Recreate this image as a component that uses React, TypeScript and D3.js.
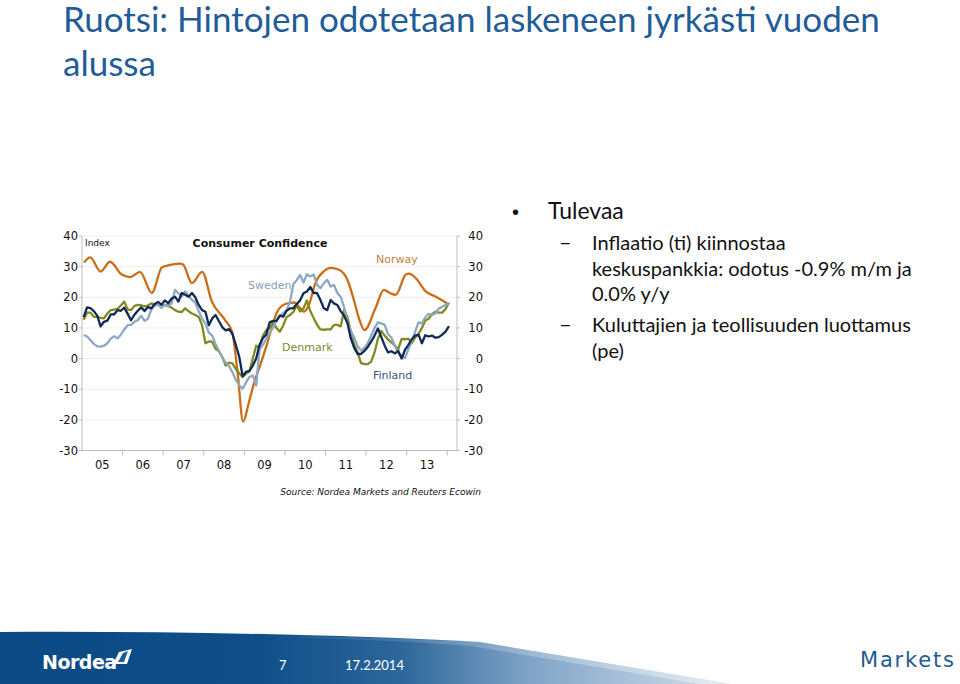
import React from "react";
import * as d3 from "d3";

// ---------- data ----------
const yearLabels = ["05", "06", "07", "08", "09", "10", "11", "12", "13"];
const yTicks = [40, 30, 20, 10, 0, -10, -20, -30];
const startYear = 2005;

// Monthly series, Jan 2005 .. Jan 2014
const sweden = [
  7.7, 7.2, 6, 4.8, 4, 3.9, 4.2, 5, 6.5, 7.3, 6.6, 7.8,
  9.5, 10.9, 11, 12, 12.5, 14, 12.3, 13, 16, 17.3, 17.5, 16.5,
  17.5, 17, 18, 22.4, 21.3, 20.3, 21.9, 20.5, 19.2, 18.3, 15.5, 13,
  11.5, 8.5, 7.5, 4.7, 2.5, 0.3, -1.3, -2.5, -4.5, -7, -8.7, -9.8,
  -7.8, -6, -5.5, -8.8, 3, 4.5, 6.5, 8.5, 10, 12.3, 14, 14.8,
  15.8, 18.5, 24.3, 25.6, 27.3, 24.8, 27.5, 26.8, 27.4, 24.1, 23, 24.6,
  25.7, 23.5, 24, 21.4, 20.1, 16.8, 12, 9, 6.8, 4, 2.6, 3.5,
  5, 7.5, 10, 11.8, 11.5, 11, 8, 6.8, 4.2, 1.8, 1, 0.2,
  3, 5.5, 8.8, 11.8, 11.5, 13.4, 14.6, 14.2, 14.7, 16.3, 16.9, 17.5,
  18,
];

const denmark = [
  12.7, 15, 15, 13.6, 13.6, 13.3, 13.1, 14.7, 15.8, 16, 16.2, 17.3,
  18.6, 16, 15.8, 17.2, 17.5, 17.4, 17, 17.3, 18, 17.6, 17.5, 17.5,
  17.5, 17.2, 16.6, 15.8, 15.3, 15.2, 16.4, 15.5, 14.7, 14.2, 13.6, 10.9,
  5, 5.6, 5.5, 3.2, 2.4, 0.5, -2.3, -1.3, -1.6, -3.5, -4.8, -6,
  -4.9, -4.2, 0, 4.2, 3.5, 7.5, 9.3, 10, 11.8, 10, 8.8, 10.8,
  13.6, 14.2, 15.2, 17.3, 15.4, 16.4, 19, 15.5, 13.2, 11, 9.5, 9.4,
  9.5, 9.5, 11, 11, 10.5, 15.8, 13.5, 8.5, 4.5, 2, -1.5, -1.8,
  -1.8, -1, 2, 6.5, 9, 7.5, 6.2, 5.3, 4.3, 3, 6.4, 6.3,
  6.5, 5, 6.8, 8, 10, 12.4, 13, 14.5, 15.3, 15, 15, 16.2,
  18.2,
];

const finland = [
  13.5, 16.7, 16.5, 15.5, 14, 10.5, 12, 12.4, 14.4, 14.4, 15.8, 15.6,
  16.6, 14.6, 12.5, 14.3, 15.6, 16.7, 15.5, 16.8, 16.4, 17.8, 18.5, 17.6,
  19, 18, 19.6, 20.2, 18.6, 21.4, 20.8, 20.2, 21.4, 20, 17.5, 15.8,
  15.3, 10.9, 13.1, 14.2, 12.2, 10.2, 9.2, 9.6, 8, 4.4, 0.6, -5.8,
  -4.3, -4, -2.3, 0, 4.5, 6.7, 7.8, 11.8, 12.3, 12.3, 14, 13.7,
  15.6, 16.4, 16.4, 17.8, 19, 21.3, 21.9, 23.4, 21.4, 21.4, 19.1, 16.4,
  15.8, 19.1, 18, 17.5, 15.5, 14, 11.5, 6.5, 3.5, 1.5, 1.5, 2.5,
  3.8, 5.5, 7.5, 9.8, 7, 4.2, 2, 2.4, 1.7, 2.5, 0, 2.8,
  4.5, 6.3, 7.5, 7.8, 5, 7.6, 7.2, 7.5, 6.8, 7, 7.8, 8.8,
  10.6,
];

// Norway (quarterly survey, plotted as a smooth line)
const norwayDates = [
  2005.05, 2005.2, 2005.46, 2005.69, 2005.98, 2006.19, 2006.43, 2006.72, 2006.97,
  2007.12, 2007.4, 2007.49, 2007.71, 2007.96, 2008.2, 2008.53, 2008.7, 2008.83,
  2008.97, 2009.11, 2009.23, 2009.4, 2009.56, 2009.68, 2009.81, 2010.01, 2010.22,
  2010.38, 2010.46, 2010.59, 2010.75, 2010.96, 2011.12, 2011.33, 2011.54, 2011.7,
  2011.84, 2011.96, 2012.23, 2012.44, 2012.6, 2012.73, 2012.98, 2013.06, 2013.22,
  2013.47, 2013.72, 2014.0,
];
const norwayValues = [
  31.3, 33, 28.4, 31.6, 27.4, 26.6, 28.3, 21.4, 29.8,
  30.4, 31, 30.7, 24.6, 28.3, 18.6, 12.5, 8.7, -4,
  -20.6, -14.4, -8.4, -1.8, 4.8, 10.3, 15.3, 17.8, 18.3,
  16.4, 15.3, 17.5, 24.6, 28.5, 29.6, 29, 25.7, 19.1,
  12.5, 9.3, 16.4, 22.4, 21.3, 20.8, 27.4, 27.7, 26.3,
  21.9, 20.2, 18,
];

const titleLines = ["Ruotsi: Hintojen odotetaan laskeneen jyrkästi vuoden", "alussa"];
const bulletItems = ["Tulevaa"];
const subItems = [
  ["Inflaatio (ti) kiinnostaa", "keskuspankkia: odotus -0.9% m/m ja", "0.0% y/y"],
  ["Kuluttajien ja teollisuuden luottamus", "(pe)"],
];

// ---------- styles ----------
const C = {
  norway: "#cc6c14",
  sweden: "#8ea7c3",
  denmark: "#7f8b1e",
  finland: "#0f2b55",
  title: "#1f5c99",
  axis: "#bcbcbc",
  grid: "#f0f0f0",
};
const chartFont = "'DejaVu Sans', Verdana, sans-serif";
const slideFont = "Lato, 'Open Sans', sans-serif";

export default function App() {
  const x = d3.scaleLinear().domain([2005, 2014.24]).range([82, 457]);
  const y = d3.scaleLinear().domain([-30, 40]).range([450.5, 236]);

  const monthDate = (i: number) => startYear + (i + 0.5) / 12;
  const monthly = (arr: number[]) => arr.map((v, i) => [monthDate(i), v] as [number, number]);

  const lineLinear = d3
    .line<[number, number]>()
    .x((d) => x(d[0]))
    .y((d) => y(d[1]));
  const lineSmooth = d3
    .line<[number, number]>()
    .x((d) => x(d[0]))
    .y((d) => y(d[1]))
    .curve(d3.curveMonotoneX);

  const norway = norwayDates.map((d, i) => [d, norwayValues[i]] as [number, number]);
  const yearBounds = d3.range(2006, 2015);

  const series = [
    { d: lineSmooth(norway), c: C.norway },
    { d: lineLinear(monthly(denmark)), c: C.denmark },
    { d: lineLinear(monthly(sweden)), c: C.sweden },
    { d: lineLinear(monthly(finland)), c: C.finland },
  ];

  return (
    <svg
      width={960}
      height={684}
      style={{ position: "absolute", left: 0, top: 0, display: "block", background: "#fff" }}
    >
      <defs>
        <linearGradient id="band" x1="0" y1="0" x2="1" y2="0">
          <stop offset="0" stopColor="#0b4a85" />
          <stop offset="0.35" stopColor="#0f4e88" />
          <stop offset="0.55" stopColor="#2d679b" />
          <stop offset="0.72" stopColor="#7ea3c6" />
          <stop offset="1" stopColor="#d6e1ec" />
        </linearGradient>
        <linearGradient id="hl" x1="0" y1="0" x2="1" y2="0">
          <stop offset="0" stopColor="#ffffff" stopOpacity="0.05" />
          <stop offset="0.6" stopColor="#ffffff" stopOpacity="0.25" />
          <stop offset="1" stopColor="#ffffff" stopOpacity="0.4" />
        </linearGradient>
      </defs>

      {/* slide title */}
      <text x={63} y={32} fontFamily={slideFont} fontSize={35} fill={C.title}>
        {titleLines[0]}
      </text>
      <text x={63} y={76} fontFamily={slideFont} fontSize={35} fill={C.title}>
        {titleLines[1]}
      </text>

      {/* gridlines */}
      {yTicks.map((t) => (
        <line key={"g" + t} x1={x(2005)} x2={x(2014.24)} y1={y(t)} y2={y(t)} stroke={C.grid} />
      ))}

      {/* axes */}
      <line x1={x(2005)} x2={x(2005)} y1={y(40)} y2={y(-30)} stroke={C.axis} />
      <line x1={x(2014.24)} x2={x(2014.24)} y1={y(40)} y2={y(-30)} stroke={C.axis} />
      <line x1={x(2005)} x2={x(2014.24)} y1={y(-30)} y2={y(-30)} stroke={C.axis} />
      {yTicks.map((t) => (
        <g key={"t" + t}>
          <line x1={x(2005) - 3} x2={x(2005)} y1={y(t)} y2={y(t)} stroke={C.axis} />
          <line x1={x(2014.24)} x2={x(2014.24) + 3} y1={y(t)} y2={y(t)} stroke={C.axis} />
          <text x={78} y={y(t) + 4} textAnchor="end" fontFamily={chartFont} fontSize={11.5} fill="#111">
            {t}
          </text>
          <text x={483} y={y(t) + 4} textAnchor="end" fontFamily={chartFont} fontSize={11.5} fill="#111">
            {t}
          </text>
        </g>
      ))}
      {yearBounds.map((yr) => (
        <line key={"xb" + yr} x1={x(yr)} x2={x(yr)} y1={y(-30)} y2={y(-30) + 5} stroke={C.axis} />
      ))}
      {yearLabels.map((lab, i) => (
        <text
          key={"xl" + lab}
          x={x(startYear + i + 0.5)}
          y={469}
          textAnchor="middle"
          fontFamily={chartFont}
          fontSize={11.5}
          fill="#111"
        >
          {lab}
        </text>
      ))}

      {/* series */}
      {series.map((s, i) => (
        <path key={"s" + i} d={s.d || ""} fill="none" stroke={s.c} strokeWidth={2.3} strokeLinejoin="round" />
      ))}

      {/* chart labels */}
      <text x={85} y={246} fontFamily={chartFont} fontSize={9} fill="#111">
        Index
      </text>
      <text x={260} y={247} textAnchor="middle" fontFamily={chartFont} fontSize={11} fontWeight="bold" fill="#111">
        Consumer Confidence
      </text>
      <text x={376} y={263} fontFamily={chartFont} fontSize={11} fill="#c47f3a">
        Norway
      </text>
      <text x={248} y={289} fontFamily={chartFont} fontSize={11} fill="#849db9">
        Sweden
      </text>
      <text x={282} y={351} fontFamily={chartFont} fontSize={11} fill="#7b8830">
        Denmark
      </text>
      <text x={373} y={379} fontFamily={chartFont} fontSize={11} fill="#3a5573">
        Finland
      </text>
      <text x={481} y={495} textAnchor="end" fontFamily={chartFont} fontSize={9} fontStyle="italic" fill="#111">
        Source: Nordea Markets and Reuters Ecowin
      </text>

      {/* bullets */}
      <text x={512} y={219} fontFamily="Arial, sans-serif" fontSize={20} fill="#111">
        •
      </text>
      <text x={548} y={219} fontFamily={slideFont} fontSize={23} fill="#111">
        {bulletItems[0]}
      </text>
      {[250, 332].map((by, k) => (
        <g key={"sub" + k}>
          <text x={559} y={by} fontFamily={slideFont} fontSize={22} fill="#111">
            –
          </text>
          {subItems[k].map((ln, j) => (
            <text key={j} x={592} y={by + j * 25.5} fontFamily={slideFont} fontSize={20} fill="#111">
              {ln}
            </text>
          ))}
        </g>
      ))}

      {/* footer band */}
      <path d="M0,632 C160,631 330,634 480,642 L732,684 L0,684 Z" fill="url(#band)" />
      <path
        d="M300,636 C380,638 440,640 480,642 L732,684 L700,684 L470,646 C420,642 360,639 300,638 Z"
        fill="url(#hl)"
      />
      <text x={42} y={669} fontFamily={chartFont} fontSize={19} fontWeight="bold" fill="#fff" letterSpacing={-0.5}>
        Nordea
      </text>
      <path d="M113,664 L119,652 C124,651 128,650 132,649 L127,664 Z" fill="#fff" />
      <path d="M118,662 L123,653 L128,651 L124,662 Z" fill="#1b5a92" />
      <text x={279} y={670} fontFamily={slideFont} fontSize={13} fill="#fff">
        7
      </text>
      <text x={345} y={670} fontFamily={slideFont} fontSize={13} fill="#fff">
        17.2.2014
      </text>
      <text x={860} y={667} fontFamily={chartFont} fontSize={21} fill="#1d5b8f" letterSpacing={1.8}>
        Markets
      </text>
    </svg>
  );
}
